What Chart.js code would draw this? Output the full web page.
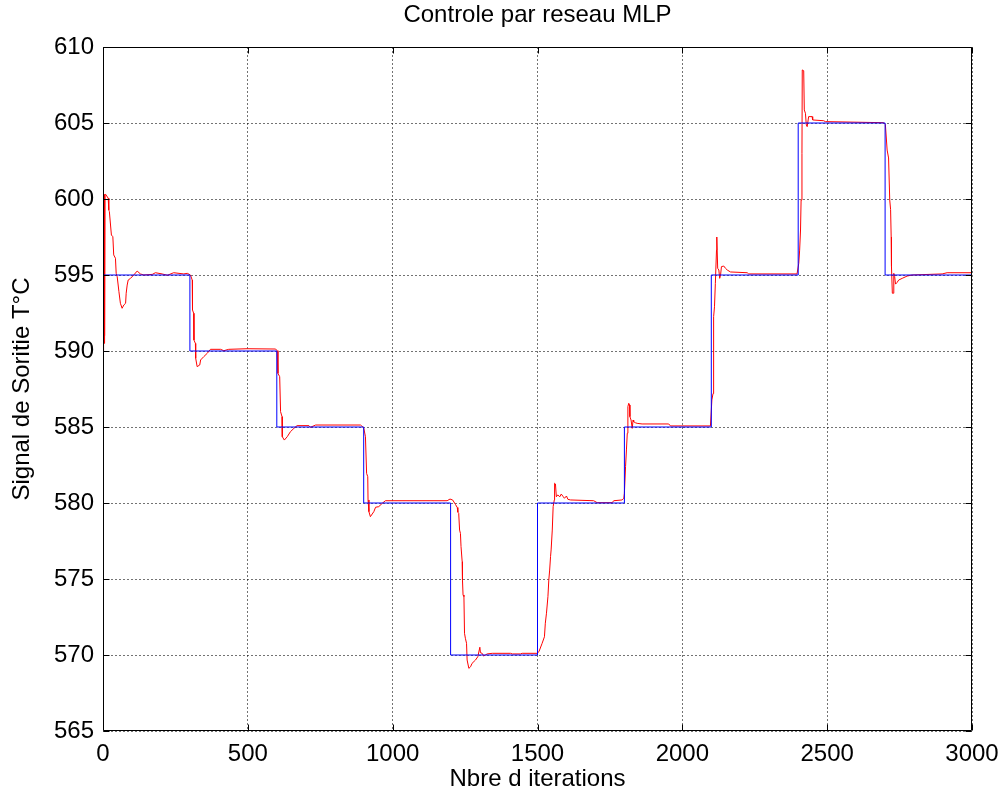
<!DOCTYPE html>
<html>
<head>
<meta charset="utf-8">
<script src="https://cdn.jsdelivr.net/npm/chart.js@4/dist/chart.umd.min.js"></script>
<style>
  html, body { margin: 0; padding: 0; background: #fff; }
  #wrap { width: 1005px; height: 805px; }
</style>
</head>
<body>
<div id="wrap"><canvas id="c" width="1005" height="805"></canvas></div>
<script>
// Setpoint (consigne): value held from each switch time until the next one
const setpointTimes  = [0, 300, 600, 900, 1200, 1500, 1800, 2100, 2400, 2700, 3000];
const setpointValues = [595, 590, 585, 580, 570, 580, 585, 595, 605, 595, 595];

// Plant output under MLP control
const responseIterations = [
  0, 1, 2, 3, 4, 5, 6, 7, 9, 18, 20, 22, 29, 34, 37, 43, 45.5, 49, 55, 60, 66, 72, 78, 80, 83.5, 87, 95,
  106, 118, 129, 141, 170, 181, 204, 222, 244, 279, 291,
  302, 308, 309, 313, 314, 319, 320, 325, 334, 337, 348, 360, 371, 406, 417, 434, 498, 596,
  601, 604, 610, 613, 618, 619, 626, 636, 647, 659, 670, 711, 716, 734, 889,
  900, 906, 910, 914, 915, 918, 923, 935, 941, 952, 964, 975, 1188,
  1198, 1207, 1217, 1223, 1225, 1228, 1231, 1234, 1236, 1240, 1241, 1243, 1246, 1248, 1251, 1255, 1257,
  1263, 1269, 1274, 1286, 1294, 1301, 1303, 1309, 1314, 1320, 1326, 1344, 1407, 1413, 1441, 1447, 1499,
  1505, 1516, 1524, 1527, 1531, 1536, 1539, 1542, 1545, 1547, 1551, 1554, 1558, 1559, 1562, 1565, 1570,
  1577, 1582, 1589, 1593, 1600, 1605, 1614, 1694, 1706, 1758, 1763, 1792, 1798,
  1800, 1804, 1807, 1810, 1812, 1815, 1818, 1819, 1823, 1827, 1830, 1832, 1838, 1844, 1861, 1953, 1959, 2097,
  2102, 2106, 2108, 2111, 2114, 2118, 2119, 2122, 2126, 2129, 2132, 2135, 2143, 2149, 2155, 2166, 2224, 2229, 2396,
  2402, 2405, 2408, 2410, 2413, 2414, 2419, 2421, 2425, 2428, 2431, 2436, 2448, 2450, 2488, 2494, 2695,
  2701, 2707, 2712, 2716, 2719, 2721, 2722, 2725, 2728, 2730, 2733, 2736, 2741, 2747, 2759, 2776, 2793, 2897, 2914, 3000
];
const responseValues = [
  590, 600.1, 590.2, 600.2, 590.5, 600.3, 591, 600.3, 600.31, 600.05, 599.28, 599.17, 597.63, 597.52, 596.32, 596.1, 595.11, 594.89, 593.9, 593.14, 592.81, 593.03, 593.14, 593.8, 594.34, 594.67, 594.78,
  595.0, 595.26, 595.07, 595.0, 595.04, 595.15, 595.07, 594.98, 595.15, 595.07, 595.11,
  595.0, 594.67, 592.7, 592.48, 590.72, 590.5, 589.52, 588.97, 589.08, 589.41, 589.63, 589.85, 590.11, 590.11, 590.02, 590.11, 590.15, 590.13,
  590.02, 588.53, 588.31, 586.01, 585.68, 584.36, 584.14, 584.36, 584.69, 584.91, 585.09, 585.09, 584.98, 585.13, 585.13,
  584.95, 584.36, 581.95, 581.73, 580.2, 579.43, 579.1, 579.43, 579.72, 579.76, 579.98, 580.15, 580.15,
  580.26, 580.2, 579.9, 579.7, 579.4, 579.32, 578.22, 578.0, 577.13, 576.14, 574.93, 573.95, 573.84, 571.43, 571.1, 570.77, 569.67,
  569.12, 569.23, 569.45, 569.67, 569.89, 570.51, 570.15, 570.11, 569.93, 570.0, 570.07, 570.11, 570.11, 570.07, 570.07, 570.11, 570.11,
  570.22, 570.77, 571.2, 572.09, 572.75, 573.84, 574.93, 575.59, 576.47, 576.91, 578.22, 579.76, 580.2, 581.3, 581.25, 580.41, 580.53,
  580.41, 580.59, 580.41, 580.31, 580.46, 580.24, 580.2, 580.15, 580.02, 580.02, 580.15, 580.2, 580.31,
  580.64, 582.39, 583.49, 584.59, 586.34, 586.56, 586.45, 585.68, 585.46, 584.91, 585.46, 585.35, 585.28, 585.24, 585.2, 585.2, 585.07, 585.07,
  586.78, 587.2, 592.26, 592.91, 594.45, 596.64, 597.5, 595.44, 595.33, 594.78, 595.0, 595.55, 595.59, 595.44, 595.33, 595.2, 595.15, 595.07, 595.07,
  595.77, 596.64, 597.96, 599.93, 603.0, 608.49, 608.44, 605.86, 605.64, 604.87, 604.76, 605.42, 605.42, 605.2, 605.15, 605.09, 605.02,
  604.9, 603.22, 602.7, 599.93, 599.3, 597.5, 595.55, 593.8, 593.8, 595.11, 594.9, 594.4, 594.5, 594.67, 594.78, 594.93, 595.0, 595.07, 595.15, 595.15
];

// Axis tick values
const xTicks = [0, 500, 1000, 1500, 2000, 2500, 3000];
const yTicks = [565, 570, 575, 580, 585, 590, 595, 600, 605, 610];

const chartTitle = 'Controle par reseau MLP';
const FONT = 'Liberation Sans, Arial, Helvetica, sans-serif';

const setpointData = setpointTimes.map((t, i) => ({ x: t, y: setpointValues[i] }));
const responseData = responseIterations.map((t, i) => ({ x: t, y: responseValues[i] }));

// Box around the plot with short inward tick marks on all four sides,
// plus the title centred over the plot area
const framePlugin = {
  id: 'frame',
  afterDraw(chart) {
    const { ctx, chartArea: a, scales } = chart;
    const L = Math.round(a.left) + 0.5, R = Math.round(a.right) - 0.5;
    const T = Math.round(a.top) + 0.5, B = Math.round(a.bottom) - 0.5;
    const len = 6;
    ctx.save();
    ctx.strokeStyle = '#000';
    ctx.lineWidth = 1;
    ctx.beginPath();
    ctx.rect(L, T, R - L, B - T);
    xTicks.forEach(v => {
      const px = Math.round(scales.x.getPixelForValue(v)) + 0.5;
      ctx.moveTo(px, B); ctx.lineTo(px, B - len);
      ctx.moveTo(px, T); ctx.lineTo(px, T + len);
    });
    yTicks.forEach(v => {
      const py = Math.round(scales.y.getPixelForValue(v)) + 0.5;
      ctx.moveTo(L, py); ctx.lineTo(L + len, py);
      ctx.moveTo(R, py); ctx.lineTo(R - len, py);
    });
    ctx.stroke();

    ctx.fillStyle = '#000';
    ctx.font = '24px ' + FONT;
    ctx.textAlign = 'center';
    ctx.textBaseline = 'middle';
    ctx.fillText(chartTitle, (a.left + a.right) / 2, a.top - 32);
    ctx.restore();
  }
};

const plainNumber = v => String(v);

new Chart(document.getElementById('c'), {
  type: 'line',
  data: {
    datasets: [
      {
        label: 'Consigne',
        data: setpointData,
        stepped: 'before',
        borderColor: '#0000ff',
        borderWidth: 1,
        pointRadius: 0,
        fill: false
      },
      {
        label: 'Sortie',
        data: responseData,
        borderColor: '#ff0000',
        borderWidth: 1,
        pointRadius: 0,
        tension: 0,
        fill: false
      }
    ]
  },
  options: {
    responsive: false,
    animation: false,
    devicePixelRatio: 1,
    parsing: false,
    layout: { padding: { top: 47, right: 33, bottom: 0, left: 0 } },
    plugins: {
      legend: { display: false },
      tooltip: { enabled: false },
      title: { display: false }
    },
    scales: {
      x: {
        type: 'linear',
        min: 0,
        max: 3000,
        afterFit(s) { s.height = 74; s.paddingLeft = 0; s.paddingRight = 0; },
        afterBuildTicks(s) { s.ticks = xTicks.map(v => ({ value: v })); },
        ticks: {
          color: '#000',
          font: { family: FONT, size: 24 },
          padding: 9,
          maxRotation: 0,
          autoSkip: false,
          callback: plainNumber
        },
        grid: { color: 'rgba(0,0,0,0.55)', lineWidth: 1, drawTicks: false },
        border: { display: false, dash: [2, 2] },
        title: {
          display: true,
          text: 'Nbre d iterations',
          color: '#000',
          font: { family: FONT, size: 24, lineHeight: 1.2 },
          padding: 11
        }
      },
      y: {
        type: 'linear',
        min: 565,
        max: 610,
        afterFit(s) { s.width = 103; s.paddingTop = 0; s.paddingBottom = 0; },
        afterBuildTicks(s) { s.ticks = yTicks.map(v => ({ value: v })); },
        ticks: {
          color: '#000',
          font: { family: FONT, size: 24 },
          padding: 9,
          callback: plainNumber
        },
        grid: { color: 'rgba(0,0,0,0.55)', lineWidth: 1, drawTicks: false },
        border: { display: false, dash: [2, 2] },
        title: {
          display: true,
          text: 'Signal de Soritie T°C',
          color: '#000',
          font: { family: FONT, size: 24, lineHeight: 1.2 },
          padding: 8
        }
      }
    }
  },
  plugins: [framePlugin]
});
</script>
</body>
</html>
